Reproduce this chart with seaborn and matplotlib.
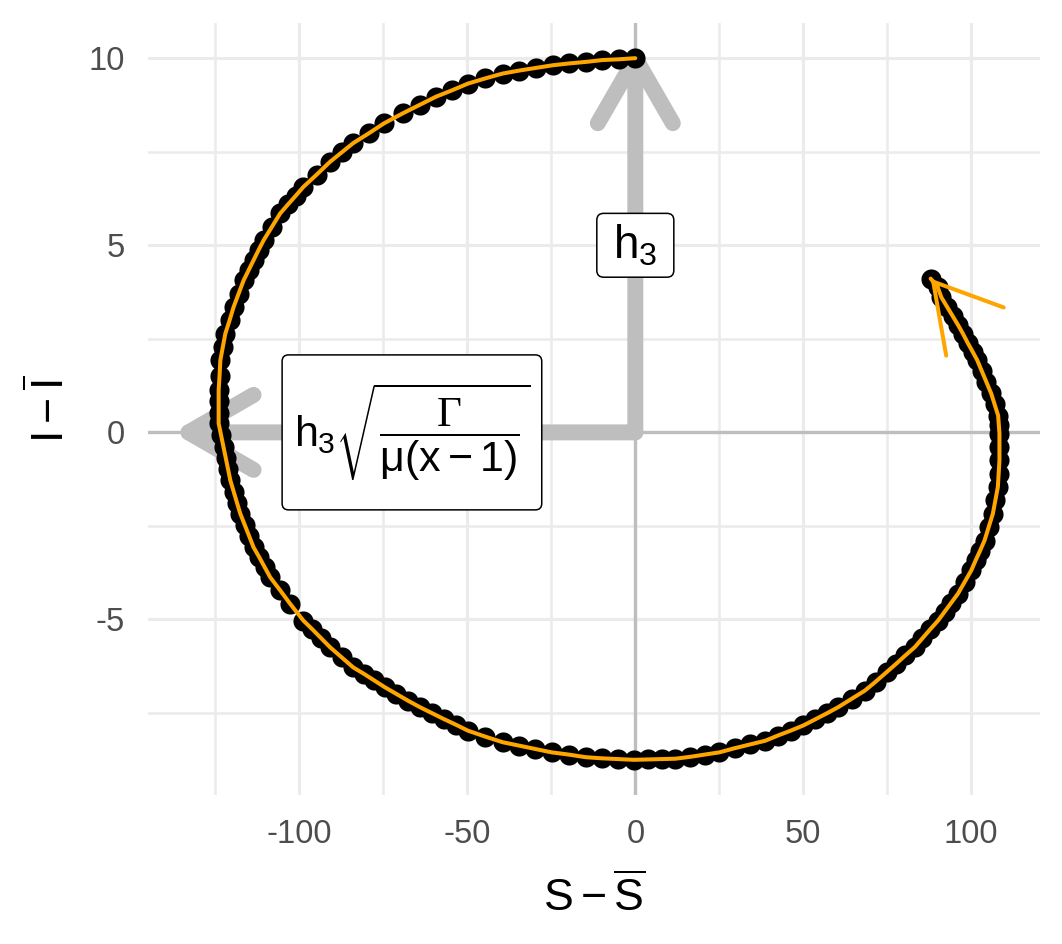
import numpy as np
import pandas as pd
import seaborn as sns
import matplotlib.pyplot as plt
from matplotlib.patches import BoxStyle
from matplotlib.transforms import offset_copy

# trajectory in deviation coordinates
s_dev = [0.0, -4.9, -9.79, -14.75, -19.67, -24.63, -29.59, -34.51, -39.47, -44.66,
         -49.85, -54.6, -59.35, -64.24, -69.14, -74.78, -79.38, -83.98, -87.42, -90.89,
         -94.84, -98.81, -101.13, -103.41, -105.73, -108.19, -110.68, -112.17, -113.65, -115.14,
         -116.62, -118.1, -119.59, -120.8, -122.05, -122.79, -123.53, -123.77, -124.04, -124.04,
         -124.04, -124.04, -123.3, -122.55, -121.9, -121.22, -120.57, -119.59, -118.58, -117.6,
         -116.29, -114.96, -113.65, -111.99, -110.36, -108.7, -105.73, -102.76, -98.81, -96.17,
         -93.53, -90.89, -87.42, -83.98, -80.83, -77.72, -74.57, -71.1, -67.66, -64.18,
         -60.59, -57.0, -53.44, -49.85, -44.66, -39.47, -34.63, -29.76, -24.93, -19.82,
         -14.75, -9.97, -5.16, -0.39, 3.74, 7.83, 11.96, 16.32, 20.65, 25.02,
         29.56, 34.13, 38.67, 42.46, 46.26, 50.06, 53.53, 56.97, 60.45, 64.39,
         68.34, 71.57, 74.78, 77.57, 80.39, 83.18, 85.49, 87.81, 90.12, 92.11,
         94.07, 96.05, 98.04, 100.0, 101.31, 102.64, 103.95, 105.19, 106.44, 107.18,
         107.92, 108.16, 108.4, 108.4, 108.4, 108.22, 108.01, 106.97, 105.94, 104.54,
         103.18, 101.78, 100.39, 98.96, 97.57, 96.14, 94.45, 92.79, 91.1, 89.97,
         87.92]
i_dev = [10.0, 9.97, 9.95, 9.9, 9.86, 9.81, 9.74, 9.67, 9.59, 9.46,
         9.32, 9.14, 8.97, 8.75, 8.53, 8.26, 7.99, 7.73, 7.48, 7.23,
         6.89, 6.56, 6.32, 6.09, 5.85, 5.49, 5.13, 4.87, 4.6, 4.33,
         4.06, 3.71, 3.35, 2.99, 2.64, 2.28, 1.93, 1.52, 1.12, 0.83,
         0.53, 0.24, -0.08, -0.39, -0.69, -0.99, -1.28, -1.58, -1.88, -2.17,
         -2.47, -2.77, -3.07, -3.33, -3.6, -3.87, -4.22, -4.58, -5.03, -5.26,
         -5.5, -5.74, -6.01, -6.28, -6.45, -6.63, -6.81, -6.99, -7.17, -7.34,
         -7.5, -7.66, -7.81, -7.97, -8.13, -8.28, -8.37, -8.46, -8.55, -8.61,
         -8.68, -8.71, -8.73, -8.75, -8.74, -8.73, -8.72, -8.67, -8.61, -8.55,
         -8.44, -8.34, -8.24, -8.1, -7.97, -7.83, -7.67, -7.51, -7.34, -7.12,
         -6.9, -6.66, -6.41, -6.19, -5.96, -5.74, -5.5, -5.26, -5.03, -4.79,
         -4.55, -4.31, -4.0, -3.69, -3.42, -3.16, -2.89, -2.53, -2.17, -1.82,
         -1.46, -1.11, -0.75, -0.39, -0.03, 0.21, 0.45, 0.75, 1.04, 1.34,
         1.63, 1.93, 2.16, 2.39, 2.63, 2.86, 3.11, 3.36, 3.61, 3.89,
         4.11]

h3 = 10            # vertical arrow: h3
h3_scaled = 133    # horizontal arrow: h3*sqrt(Gamma/(mu(x-1)))

x_ticks = [-100, -50, 0, 50, 100]
x_tick_labels = ['-100', '-50', '0', '50', '100']
x_minor = [-125, -75, -25, 25, 75]
y_ticks = [-5, 0, 5, 10]
y_tick_labels = ['-5', '0', '5', '10']
y_minor = [-7.5, -2.5, 2.5, 7.5]

sns.set_style('white')
plt.rcParams['font.family'] = ['Liberation Sans', 'DejaVu Sans']
plt.rcParams['text.color'] = 'black'
plt.rcParams['axes.labelcolor'] = 'black'
plt.rcParams['mathtext.fontset'] = 'custom'
plt.rcParams['mathtext.rm'] = 'Liberation Sans'
plt.rcParams['mathtext.it'] = 'Liberation Sans'
plt.rcParams['mathtext.sf'] = 'Liberation Sans'
plt.rcParams['mathtext.cal'] = 'Liberation Serif'


#rounded label box with separate horizontal / vertical padding (like geom_label)
def label_box(pad_x, pad_y):
    base = BoxStyle.Round(pad=0, rounding_size=0.15)
    def style(x0, y0, width, height, mutation_size):
        px, py = pad_x * mutation_size, pad_y * mutation_size
        return base(x0 - px, y0 - py, width + 2 * px, height + 2 * py, mutation_size)
    return style


traj = pd.DataFrame({'S': s_dev, 'I': i_dev})

fig = plt.figure(figsize=(10.62, 9.44), dpi=100)
ax = fig.add_axes([148 / 1062, 1 - 795 / 944, (1040 - 148) / 1062, (795 - 23) / 944])

#grid and zero lines
ax.set_xticks(x_ticks, labels=x_tick_labels)
ax.set_xticks(x_minor, minor=True)
ax.set_yticks(y_ticks, labels=y_tick_labels)
ax.set_yticks(y_minor, minor=True)
ax.grid(which='major', color='#EBEBEB', lw=2.3)
ax.grid(which='minor', color='#EBEBEB', lw=1.8)
ax.set_axisbelow(True)
ax.tick_params(which='both', length=0)
ax.tick_params(axis='y', pad=16.5, labelsize=23.5, labelcolor='#4D4D4D')
ax.tick_params(axis='x', pad=17, labelsize=23.5, labelcolor='#4D4D4D')
for sp in ax.spines.values():
    sp.set_visible(False)
ax.axhline(0, color='#BEBEBE', lw=2.4, zorder=1)
ax.axvline(0, color='#BEBEBE', lw=2.4, zorder=1)

#eigen-direction arrows (tip offset so the arrow vertex sits on the end point)
gray_lw = 11.5
gray_arrow = dict(arrowstyle='->,head_length=46.8,head_width=27', mutation_scale=1,
                  color='#BEBEBE', lw=gray_lw, shrinkA=0, shrinkB=0,
                  capstyle='round', joinstyle='round')
up_tip = offset_copy(ax.transData, fig=fig, x=0, y=gray_lw, units='points')
left_tip = offset_copy(ax.transData, fig=fig, x=-gray_lw, y=0, units='points')
ax.annotate('', xy=(0, h3), xycoords=up_tip, xytext=(0, 0), textcoords='data',
            arrowprops=gray_arrow, zorder=2)
ax.annotate('', xy=(-h3_scaled, 0), xycoords=left_tip, xytext=(0, 0), textcoords='data',
            arrowprops=gray_arrow, zorder=2)

#trajectory
sns.scatterplot(data=traj, x='S', y='I', color='black', s=210, linewidth=0, zorder=3, ax=ax)
sns.lineplot(data=traj, x='S', y='I', sort=False, estimator=None, color='orange', lw=2.9, zorder=4, ax=ax)
ax.annotate('', xy=(s_dev[-1], i_dev[-1]), xytext=(s_dev[-2], i_dev[-2]),
            arrowprops=dict(arrowstyle='->,head_length=46.8,head_width=27', mutation_scale=1,
                            color='orange', lw=2.9, shrinkA=0, shrinkB=0),
            zorder=5)

#labels
ax.text(0, h3 / 2, r'$h_3$', ha='center', va='center', fontsize=33, zorder=6,
        bbox=dict(boxstyle=label_box(0.36, 0.2), fc='white', ec='black', lw=1.1))
ax.text(-h3_scaled / 2, 0, r'$h_3\sqrt{\dfrac{\mathcal{\Gamma}}{\mu(x-1)}}$', ha='center', va='center',
        fontsize=31, zorder=6,
        bbox=dict(boxstyle=label_box(0.27, 0.62), fc='white', ec='black', lw=1.1))

ax.set_xlim(-145.07, 120.47)
ax.set_ylim(-9.69, 10.94)
ax.set_xlabel(r'$S-\overline{S}$', fontsize=32, labelpad=17.5)
ax.set_ylabel(r'$I-\overline{I}$', fontsize=32, labelpad=11)

fig.savefig('out.png', dpi=100)
